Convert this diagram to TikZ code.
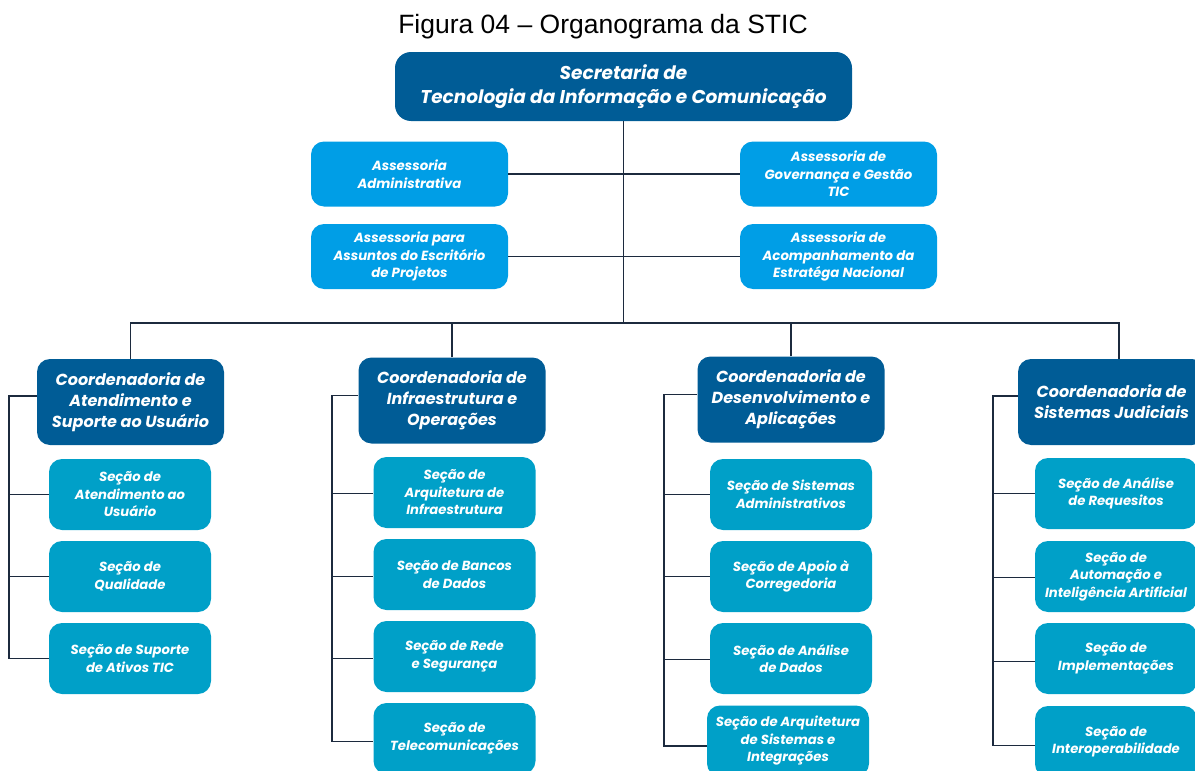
\documentclass[tikz,border=0pt]{standalone}
\usepackage{fontspec}
\setmainfont{Liberation Sans}
\newfontfamily\pop{Poppins}
\definecolor{dkblue}{RGB}{0,92,150}
\definecolor{asblue}{RGB}{0,158,230}
\definecolor{scblue}{RGB}{0,160,200}
\definecolor{lnc}{RGB}{28,42,62}
\begin{document}
\begin{tikzpicture}[x=1pt,y=-1pt,
  box/.style={rounded corners=13pt, inner sep=0pt, align=center, text=white, font=\pop\bfseries\itshape},
  topbox/.style={box, fill=dkblue, rounded corners=16pt, minimum width=457pt, minimum height=69pt, font=\pop\bfseries\itshape\fontsize{18.5}{24}\selectfont},
  coordbox/.style={box, fill=dkblue, minimum width=187pt, minimum height=86pt, font=\pop\bfseries\itshape\fontsize{16}{21}\selectfont},
  asbox/.style={box, fill=asblue, minimum width=197pt, minimum height=65pt, font=\pop\bfseries\itshape\fontsize{13.3}{17.5}\selectfont},
  secbox/.style={box, fill=scblue, minimum width=162pt, minimum height=71pt, font=\pop\bfseries\itshape\fontsize{13.2}{17.5}\selectfont},
  conn/.style={draw=lnc, line width=1.8pt}]
\useasboundingbox (0,0) rectangle (1195,771);
\clip (0,0) rectangle (1195,771);
\node[font=\fontsize{26.5}{30}\selectfont] (title) at (603,27) {Figura 04 – Organograma da STIC};
\node[topbox] (top) at (623.5,86.5) {Secretaria de\\Tecnologia da Informação e Comunicação};
\node[asbox] (A1) at (409.5,174) {Assessoria\\Administrativa};
\node[asbox] (A2) at (838.5,174) {Assessoria de\\Governança e Gestão\\TIC};
\node[asbox] (A3) at (409.5,256.5) {Assessoria para\\Assuntos do Escritório\\de Projetos};
\node[asbox] (A4) at (838.5,256.5) {Assessoria de\\Acompanhamento da\\Estratéga Nacional};
\coordinate (bus) at (625,323);
\node[coordbox] (C1) at (130.5,402) {Coordenadoria de\\Atendimento e\\Suporte ao Usuário};
\node[coordbox] (C2) at (452,400.5) {Coordenadoria de\\Infraestrutura e\\Operações};
\node[coordbox] (C3) at (791,399.5) {Coordenadoria de\\Desenvolvimento e\\Aplicações};
\node[coordbox] (C4) at (1111.5,402) {Coordenadoria de\\Sistemas Judiciais};
% sections
\node[secbox] (S11) at (130,494.5) {Seção de\\Atendimento ao\\Usuário};
\node[secbox] (S12) at (130,576.5) {Seção de\\Qualidade};
\node[secbox] (S13) at (130,658.5) {Seção de Suporte\\de Ativos TIC};
\node[secbox] (S21) at (454.5,492.5) {Seção de\\Arquitetura de\\Infraestrutura};
\node[secbox] (S22) at (454.5,574.5) {Seção de Bancos\\de Dados};
\node[secbox] (S23) at (454.5,656.5) {Seção de Rede\\e Segurança};
\node[secbox] (S24) at (454.5,738.5) {Seção de\\Telecomunicações};
\node[secbox] (S31) at (791,494.5) {Seção de Sistemas\\Administrativos};
\node[secbox] (S32) at (791,576.5) {Seção de Apoio à\\Corregedoria};
\node[secbox] (S33) at (791,658.5) {Seção de Análise\\de Dados};
\node[secbox] (S34) at (788,741) {Seção de Arquitetura\\de Sistemas e\\Integrações};
\node[secbox] (S41) at (1116,493.5) {Seção de Análise\\de Requesitos};
\node[secbox] (S42) at (1116,576.5) {Seção de\\Automação e\\Inteligência Artificial};
\node[secbox] (S43) at (1116,658.5) {Seção de\\Implementações};
\node[secbox] (S44) at (1116,741.5) {Seção de\\Interoperabilidade};
% connectors
\draw[conn] (top.south) -- (top.south |- bus);
\draw[conn] (A1.east) -- (A2.west);
\draw[conn] (A3.east) -- (A4.west);
\draw[conn] (C1.north) -- (C1.north |- bus) -- ([xshift=7.5pt]C4.north |- bus) -- ([xshift=7.5pt]C4.north);
\draw[conn] (C2.north) -- (C2.north |- bus);
\draw[conn] (C3.north) -- (C3.north |- bus);
\coordinate (sp1) at (9,0);
\coordinate (sp2) at (332,0);
\coordinate (sp3) at (664,0);
\coordinate (sp4) at (993,0);
\draw[conn] ([yshift=6pt]C1.west) -- ([yshift=6pt]C1.west -| sp1) -- (S13.west -| sp1) -- (S13.west);
\draw[conn] (S11.west -| sp1) -- (S11.west);
\draw[conn] (S12.west -| sp1) -- (S12.west);
\draw[conn] ([yshift=5pt]C2.west) -- ([yshift=5pt]C2.west -| sp2) -- ([yshift=-3pt]S24.west -| sp2) -- ([yshift=-3pt]S24.west);
\draw[conn] ([yshift=-1pt]S21.west -| sp2) -- ([yshift=-1pt]S21.west);
\draw[conn] ([yshift=-2pt]S22.west -| sp2) -- ([yshift=-2pt]S22.west);
\draw[conn] ([yshift=-2pt]S23.west -| sp2) -- ([yshift=-2pt]S23.west);
\draw[conn] ([yshift=5pt]C3.west) -- ([yshift=5pt]C3.west -| sp3) -- ([yshift=-5pt]S34.west -| sp3) -- ([yshift=-5pt]S34.west);
\draw[conn] (S31.west -| sp3) -- (S31.west);
\draw[conn] (S32.west -| sp3) -- (S32.west);
\draw[conn] ([yshift=-1pt]S33.west -| sp3) -- ([yshift=-1pt]S33.west);
\draw[conn] ([yshift=6pt]C4.west) -- ([yshift=6pt]C4.west -| sp4) -- ([yshift=-4pt]S44.west -| sp4) -- ([yshift=-4pt]S44.west);
\draw[conn] (S41.west -| sp4) -- (S41.west);
\draw[conn] ([yshift=-1pt]S42.west -| sp4) -- ([yshift=-1pt]S42.west);
\draw[conn] ([yshift=-3pt]S43.west -| sp4) -- ([yshift=-3pt]S43.west);
\end{tikzpicture}
\end{document}
